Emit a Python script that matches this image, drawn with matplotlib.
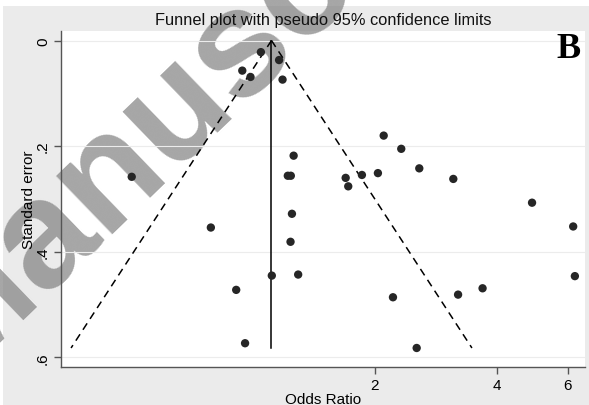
import numpy as np
import matplotlib
matplotlib.use("Agg")
import matplotlib.pyplot as plt
from matplotlib import font_manager
from matplotlib.patches import Rectangle

# --------------------------
# Study data
# --------------------------
odds_ratio = [1.045, 0.940, 0.985, 1.159, 1.182, 0.501, 1.259, 1.218, 1.239,
              1.247, 1.237, 1.112, 1.292, 2.102, 2.323, 2.574, 3.124, 2.034,
              1.857, 1.693, 1.718, 4.89, 6.18, 6.24, 3.69, 3.21, 2.216,
              2.536, 0.786, 0.908, 0.955]
std_err = [0.022, 0.057, 0.069, 0.037, 0.074, 0.258, 0.218, 0.256, 0.256,
           0.328, 0.381, 0.445, 0.443, 0.180, 0.205, 0.242, 0.262, 0.251,
           0.2545, 0.260, 0.276, 0.307, 0.352, 0.446, 0.469, 0.481, 0.486,
           0.582, 0.354, 0.472, 0.573]
pooled_or = 1.11

x_ticks = [2, 4, 6]
y_ticks = [0, 0.2, 0.4, 0.6]
y_tick_labels = ["0", ".2", ".4", ".6"]

plt.rcParams["font.family"] = ["Liberation Sans", "DejaVu Sans"]

fig = plt.figure(figsize=(5.89, 4.06), dpi=100)
fig.patch.set_facecolor("white")
fig.patches.append(Rectangle((3 / 589, 0), 1, 1 - 7 / 406, transform=fig.transFigure,
                             facecolor="#ebebeb", edgecolor="none", zorder=-1))

ax = fig.add_axes([61 / 589, 1 - 368 / 406, 524 / 589, 336 / 406])
ax.set_facecolor("white")

# pseudo 95% limits
se_max = max(std_err)
se_line = np.array([0, se_max])
log_p = np.log(pooled_or)
ax.plot(np.exp(log_p - 1.96 * se_line), se_line, color="black", lw=1.1,
        dashes=(5, 3.5), zorder=2)
ax.plot(np.exp(log_p + 1.96 * se_line), se_line, color="black", lw=1.1,
        dashes=(5, 3.5), zorder=2)
ax.plot([pooled_or, pooled_or], se_line, color="black", lw=1.1, zorder=2)

ax.scatter(odds_ratio, std_err, s=36, color="#262626", edgecolor="none", zorder=3)

ax.set_xscale("log")
ax.set_xlim(0.335, 6.61)
ax.set_ylim(0.618, -0.018)
ax.set_xticks(x_ticks)
ax.set_xticklabels([str(t) for t in x_ticks])
ax.xaxis.set_minor_locator(matplotlib.ticker.NullLocator())
ax.set_yticks(y_ticks)
ax.set_yticklabels(y_tick_labels, rotation=90, va="center")
ax.tick_params(labelsize=11, color="#555555", length=5, width=1, pad=3)
ax.grid(axis="y", color="#ececec", lw=0.8, zorder=0)
ax.grid(axis="x", visible=False)
for s in ["top", "right"]:
    ax.spines[s].set_visible(False)
for s in ["left", "bottom"]:
    ax.spines[s].set_color("#555555")
    ax.spines[s].set_linewidth(1)

ax.set_xlabel("Odds Ratio", fontsize=11, labelpad=0)
ax.set_ylabel("Standard error", fontsize=11, labelpad=0)

fig.text(323 / 589, 1 - 20 / 406, "Funnel plot with pseudo 95% confidence limits",
         ha="center", va="center", fontsize=11.8, color="#111111")
fig.text(581 / 589, 1 - 58 / 406, "B", ha="right", va="baseline", fontsize=26,
         fontweight="bold", family="Liberation Serif")

# watermark (tall, narrow lettering)
installed = {f.name for f in font_manager.fontManager.ttflist}
if "Liberation Sans Narrow" in installed:
    wm_family, wm_size = "Liberation Sans Narrow", 135
else:
    wm_family, wm_size = "Liberation Sans", 110
ax.text(244 / 589, 1 - 98 / 406, "Manuscript", transform=fig.transFigure,
        rotation=44, rotation_mode="anchor", ha="center", va="baseline",
        fontsize=wm_size, fontweight="bold", family=wm_family,
        color="#808080", alpha=0.7, clip_on=False, zorder=1)

fig.savefig("out.png", dpi=100)
